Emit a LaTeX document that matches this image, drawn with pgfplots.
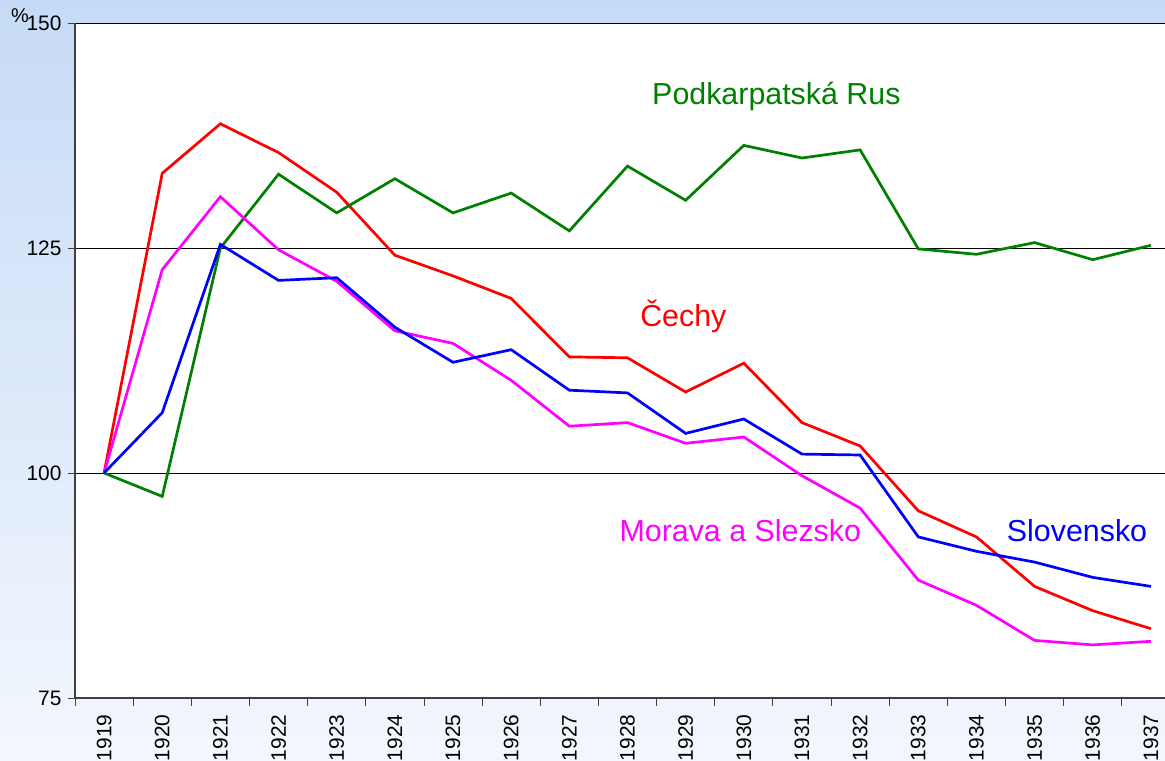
\documentclass[border=0pt]{standalone}
\usepackage{pgfplots}
\pgfplotsset{compat=1.18}
\usepackage{fontspec}
\setmainfont{Liberation Sans}
\definecolor{bgtop}{HTML}{C6DBF7}
\definecolor{bgbot}{HTML}{F3F7FD}
\definecolor{axgray}{HTML}{404040}
\definecolor{cgreen}{HTML}{008000}
\definecolor{cmag}{HTML}{FF00FF}
\definecolor{cred}{HTML}{FF0000}
\definecolor{cblue}{HTML}{0000FF}
\pgfplotstableread{
x cechy podk slov morava
0 100.0 100.0 100.0 100.0
1 133.3 97.4 106.7 122.6
2 138.8 125.0 125.4 130.7
3 135.6 133.2 121.4 124.8
4 131.2 128.9 121.7 121.3
5 124.2 132.7 116.2 115.8
6 121.9 128.9 112.3 114.4
7 119.4 131.1 113.7 110.3
8 112.9 126.9 109.2 105.2
9 112.8 134.1 108.9 105.6
10 109.0 130.3 104.4 103.3
11 112.2 136.4 106.0 104.0
12 105.6 135.0 102.1 99.7
13 103.0 135.9 102.0 96.1
14 95.8 124.9 92.9 88.1
15 92.9 124.3 91.3 85.3
16 87.4 125.6 90.1 81.4
17 84.7 123.7 88.4 80.9
18 82.7 125.3 87.4 81.3
}\data
\begin{document}
\begin{tikzpicture}
\useasboundingbox (0,0) rectangle (1165bp,761bp);
\shade[top color=bgtop, bottom color=bgbot] (0,0) rectangle (1165bp,761bp);
\clip (0,0) rectangle (1165bp,761bp);
\begin{axis}[
  at={(75bp,63bp)}, anchor=south west,
  scale only axis,
  width=1105bp, height=675bp,
  xmin=-0.5, xmax=18.5,
  ymin=75, ymax=150,
  axis background/.style={fill=white},
  axis x line*=bottom, axis y line*=left,
  axis line style={draw=axgray, line width=1.8bp},
  ytick={75,100,125,150},
  ymajorgrids,
  major grid style={black, line width=0.8bp},
  xtick={0,...,18},
  xticklabels={1919,1920,1921,1922,1923,1924,1925,1926,1927,1928,1929,1930,1931,1932,1933,1934,1935,1936,1937},
  minor xtick={-0.5,0.5,...,18.5},
  xtick style={draw=none},
  minor x tick style={draw=axgray, line width=0.8bp},
  ytick style={draw=axgray, line width=0.8bp},
  tick align=outside,
  major tick length=7bp,
  minor tick length=8bp,
  x tick label style={rotate=90, anchor=east, font=\fontsize{21}{24}\selectfont},
  y tick label style={font=\fontsize{21}{24}\selectfont},
  xticklabel shift=6bp,
  yticklabel shift=3bp,
  /pgf/number format/assume math mode=true,
  clip=false,
]
\addplot[cred, line width=2.7bp] table[x=x, y=cechy] {\data};
\addplot[cgreen, line width=2.7bp] table[x=x, y=podk] {\data};
\addplot[cmag, line width=2.7bp] table[x=x, y=morava] {\data};
\addplot[cblue, line width=2.7bp] table[x=x, y=slov] {\data};
\node[text=cgreen, font=\fontsize{30.5}{34}\selectfont] at (axis cs:11.56,141.8) {Podkarpatská Rus};
\node[text=cred, font=\fontsize{30.5}{34}\selectfont] at (axis cs:9.96,117.4) {Čechy};
\node[text=cmag, font=\fontsize{30.5}{34}\selectfont] at (axis cs:10.94,93.6) {Morava a Slezsko};
\node[text=cblue, font=\fontsize{30.5}{34}\selectfont] at (axis cs:16.73,93.6) {Slovensko};
\node[font=\fontsize{20}{22}\selectfont, inner sep=0pt] at (rel axis cs:0,1) [xshift=-55bp, yshift=7bp] {\%};
\end{axis}
\end{tikzpicture}
\end{document}
